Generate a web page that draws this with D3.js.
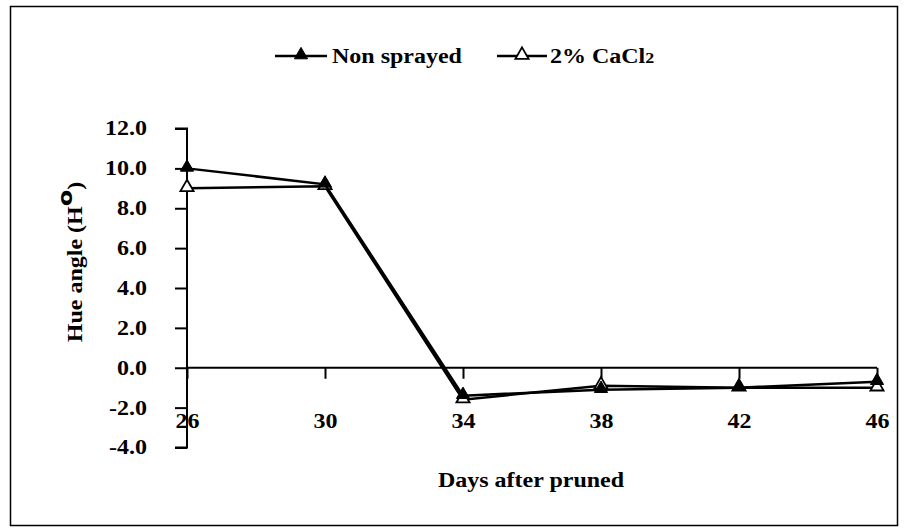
<!DOCTYPE html>
<html><head><meta charset="utf-8">
<script src="https://cdn.jsdelivr.net/npm/d3@7"></script>
<style>body{margin:0;background:#fff;} svg{display:block;}</style>
</head><body><svg id="c" width="909" height="531"></svg>
<script>
const days = [26, 30, 34, 38, 42, 46];
const nonSprayed = [10.0, 9.2, -1.4, -1.1, -1.0, -0.7];
const cacl2 = [9.0, 9.1, -1.6, -0.9, -1.0, -1.0];
const yTicks = [-4, -2, 0, 2, 4, 6, 8, 10, 12];
const seriesNames = ["Non sprayed", "2% CaCl"];

const svg = d3.select("#c");
const FONT = "'Liberation Serif','Times New Roman',serif";
const SX = 1.2;
svg.append("rect").attr("x",10.5).attr("y",6.5).attr("width",887).attr("height",519)
  .attr("fill","#fff").attr("stroke","#000").attr("stroke-width",1.5);

const x = d3.scaleLinear().domain([26,46]).range([187,877]);
const y = d3.scaleLinear().domain([-4,12]).range([447.5,128.5]);
const fmt = d => d3.format(".1f")(d).replace("\u2212","-");

// y axis
const ya = svg.append("g").attr("transform","translate(187,0)")
  .call(d3.axisLeft(y).tickValues(yTicks).tickSize(12).tickPadding(28).tickFormat(fmt));
ya.select(".domain").attr("stroke-width",2).attr("d","M-12,"+y(12)+"H0V"+y(-4)+"H-12");
ya.selectAll(".tick line").attr("stroke-width",2);
ya.selectAll("text").attr("font-family",FONT).attr("font-weight","bold").attr("font-size",20).attr("fill","#000")
  .attr("x",0).attr("transform","translate(-40,0) scale("+SX+",1)");

// x axis at y=0
const xa = svg.append("g").attr("transform","translate(0,"+y(0)+")")
  .call(d3.axisBottom(x).tickValues(days).tickSize(11).tickPadding(0).tickFormat(d3.format("d")));
xa.select(".domain").attr("stroke-width",2).attr("d","M"+x(26)+",0H"+x(46));
xa.selectAll(".tick line").attr("stroke-width",2);
xa.selectAll("text").attr("font-family",FONT).attr("font-weight","bold").attr("font-size",20).attr("fill","#000")
  .attr("dy",null).attr("y",0).attr("transform","translate(0,60) scale("+SX+",1)");

const line = d3.line().x((d,i)=>x(days[i])).y(d=>y(d));
const tri = d3.symbol().type(d3.symbolTriangle).size(75);

function drawSeries(vals, filled){
  svg.append("path").datum(vals).attr("d",line).attr("fill","none").attr("stroke","#000").attr("stroke-width",2.5);
  svg.selectAll(null).data(vals).enter().append("path")
    .attr("d",tri).attr("transform",(d,i)=>"translate("+x(days[i])+","+(y(d)-1)+")")
    .attr("fill",filled?"#000":"#fff").attr("stroke","#000").attr("stroke-width",filled?1:1.8);
}
drawSeries(cacl2,false);
drawSeries(nonSprayed,true);

// legend
const leg = [{x1:275,x2:327,tx:332,filled:true,name:seriesNames[0],sub:""},{x1:497,x2:547,tx:550,filled:false,name:seriesNames[1],sub:"2"}];
leg.forEach(l=>{
  svg.append("line").attr("x1",l.x1).attr("x2",l.x2).attr("y1",56).attr("y2",56).attr("stroke","#000").attr("stroke-width",2.5);
  svg.append("path").attr("d",tri).attr("transform","translate("+((l.x1+l.x2)/2)+",55)")
    .attr("fill",l.filled?"#000":"#fff").attr("stroke","#000").attr("stroke-width",l.filled?1:1.8);
  const t = svg.append("text").attr("transform","translate("+l.tx+",63) scale("+SX+",1)").attr("font-family",FONT).attr("font-weight","bold")
    .attr("font-size",20);
  t.append("tspan").text(l.name);
  if (l.sub) t.append("tspan").attr("font-size",15).text(l.sub);
});

// axis titles
svg.append("text").attr("transform","translate(531,487) scale("+SX+",1)").attr("text-anchor","middle")
  .attr("font-family",FONT).attr("font-weight","bold").attr("font-size",20).text("Days after pruned");
const yt = svg.append("text").attr("transform","translate(82,262) rotate(-90) scale("+SX+",1)").attr("text-anchor","middle")
  .attr("font-family",FONT).attr("font-weight","bold").attr("font-size",20);
yt.append("tspan").text("Hue angle (H");
yt.append("tspan").attr("dy",-10).attr("font-size",20).attr("font-family","'DejaVu Sans',sans-serif").attr("font-weight","bold").text("o");
yt.append("tspan").attr("dy",10).text(")");
</script></body></html>
